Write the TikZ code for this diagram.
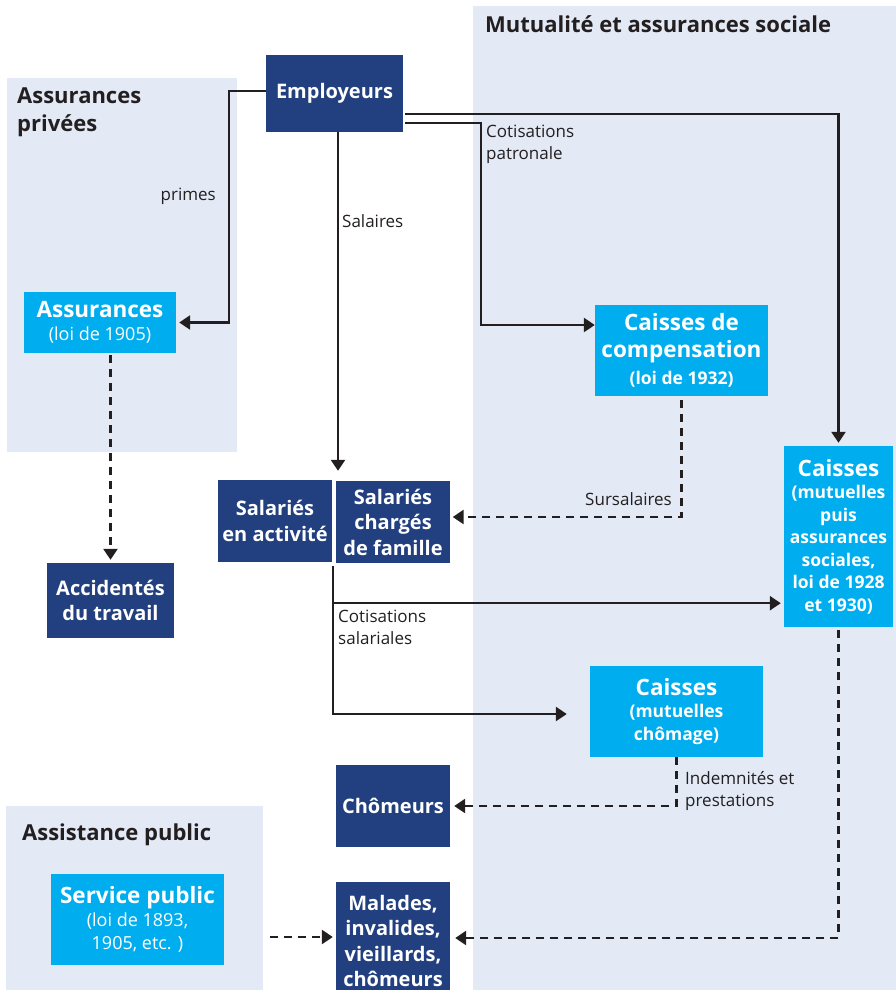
\documentclass[tikz,border=0pt]{standalone}
\usepackage{fontspec}
\setmainfont{Open Sans}
\usetikzlibrary{arrows.meta,calc}
\definecolor{navy}{HTML}{22407F}
\definecolor{cyanc}{HTML}{00AEEF}
\definecolor{bgc}{HTML}{E3E9F5}
\definecolor{ink}{HTML}{231F20}
\newcommand{\fA}{\fontsize{20}{25.5}\selectfont\bfseries}
\newcommand{\fC}{\fontsize{22.5}{27}\selectfont\bfseries}
\newcommand{\fB}{\fontsize{17.5}{22.5}\selectfont\bfseries}
\newcommand{\fR}{\fontsize{18}{23}\selectfont\mdseries}
\newcommand{\fL}{\fontsize{17}{22.5}\selectfont}
\newcommand{\fT}{\fontsize{22}{28}\selectfont\bfseries}
\tikzset{
  dk/.style={fill=navy, text=white, inner sep=0pt, align=center, font=\fA},
  cy/.style={fill=cyanc, text=white, inner sep=0pt, align=center, font=\fC},
  arr/.style={draw=ink, line width=2.5pt, -{Triangle[width=14pt,length=11pt]}},
  darr/.style={arr, dash pattern=on 8pt off 6pt},
  lbl/.style={text=ink, font=\fL, align=left, inner sep=0pt},
  ttl/.style={text=ink, font=\fT, align=left, inner sep=0pt},
}
\begin{document}
\begin{tikzpicture}[x=1pt,y=-1pt]
\useasboundingbox (0,0) rectangle (896,990);
% background regions
\fill[bgc] (7,78) rectangle (237,452);
\fill[bgc] (473,6) rectangle (896,990);
\fill[bgc] (6,806) rectangle (263,990);
% titles
\node[ttl, anchor=base west] (tpriv) at (17,103) {Assurances};
\node[ttl, anchor=base west] (tpriv2) at (17,131) {privées};
\node[ttl, anchor=base west] (tmut) at (485,33) {Mutualité et assurances sociale};
\node[ttl, anchor=base west] (tass) at (22,840) {Assistance public};
% nodes
\node[dk, minimum width=137pt, minimum height=77pt] (emp) at (334.5,93.5) {Employeurs};
\node[cy, font=\fR, minimum width=152pt, minimum height=61pt] (assur) at (100,322.5) {\fC Assurances\\(loi de 1905)};
\node[dk, minimum width=127pt, minimum height=75pt] (accid) at (110.5,600.5) {Accidentés\\du travail};
\node[dk, minimum width=114pt, minimum height=82pt] (salact) at (275,521) {Salariés\\en activité};
\node[dk, minimum width=114pt, minimum height=82pt] (salfam) at (393,522) {Salariés\\chargés\\de famille};
\node[cy, minimum width=173pt, minimum height=91pt] (ccomp) at (681.5,350.5) {Caisses de\\compensation\\\fB (loi de 1932)};
\node[cy, font=\fB, minimum width=109pt, minimum height=181pt] (cbig) at (838.5,536.5) {\fC Caisses\\(mutuelles\\puis\\assurances\\sociales,\\loi de 1928\\et 1930)};
\node[cy, font=\fB, minimum width=173pt, minimum height=91pt] (cchom) at (676.5,711.5) {\fC Caisses\\(mutuelles\\chômage)};
\node[dk, minimum width=114pt, minimum height=82pt] (chom) at (393,806) {Chômeurs};
\node[dk, minimum width=114pt, minimum height=118pt] (malad) at (393,941) {Malades,\\invalides,\\vieillards,\\chômeurs};
\node[cy, font=\fR, minimum width=173pt, minimum height=91pt] (servpub) at (137.5,919.5) {\fC Service public\\(loi de 1893,\\1905, etc. )};
% connectors
\draw[arr, shorten >=3pt] ([yshift=2.5pt]emp.west) -- ++(-37,0) |- (assur.east);
\draw[arr, shorten >=10pt] ([xshift=3.5pt]emp.south) -- ([xshift=3.5pt]emp.south |- salfam.north);
\draw[arr, shorten >=3pt] ([xshift=2pt,yshift=-20.5pt]emp.east) -| (cbig.north);
\draw[arr] ([xshift=2pt,yshift=-29.5pt]emp.east) -- ++(76,0) |- ([yshift=25.5pt]ccomp.west);
\draw[darr, shorten >=2.5pt] ([yshift=-4pt]ccomp.south) |- ([yshift=5pt]salfam.east);
\coordinate (st) at ([xshift=-3pt,yshift=-3pt]salfam.south west);
\coordinate (br) at ([yshift=-37pt]st);
\draw[arr, shorten >=23pt] (st) |- ([yshift=-2.5pt]cchom.west);
\draw[arr, shorten >=3pt] (br) -- (br -| cbig.west);
\draw[darr, shorten >=4pt] (cchom.south) |- (chom.east);
\draw[darr, shorten >=5pt] ([yshift=-3pt]cbig.south) |- ([yshift=3pt]malad.east);
\coordinate (sp) at ([xshift=46pt,yshift=-17.5pt]servpub.east);
\draw[darr, shorten >=3pt] (sp) -- (sp -| malad.west);
\draw[darr, shorten >=3pt] ([yshift=-2pt]accid.north |- assur.south) -- (accid.north);
% labels
\node[lbl, anchor=base east] (lprim) at (216,200) {primes};
\node[lbl, anchor=base west] (lsal) at (342,227) {Salaires};
\node[lbl, anchor=north west] (lcp) at (486,124.5) {Cotisations\\patronale};
\node[lbl, anchor=base east] (lsur) at (672,505) {Sursalaires};
\node[lbl, anchor=north west] (lcs) at (338,609.5) {Cotisations\\salariales};
\node[lbl, anchor=north west] (lind) at (685,771) {Indemnités et\\prestations};
\end{tikzpicture}
\end{document}
